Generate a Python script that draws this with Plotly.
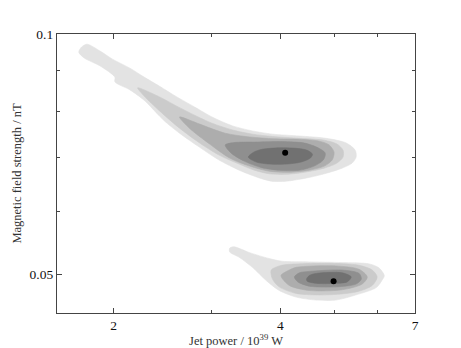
import plotly.graph_objects as go

# ---- data (x: jet power / 1e39 W, y: magnetic field / nT) ----
# Upper posterior mode: contour boundaries, outer (L1) to inner (L5)
up_l1_x = [1.73, 1.75, 1.79, 1.89, 1.99, 2.14, 2.27, 2.42, 2.60, 2.80, 3.01, 3.28, 3.56, 3.87, 4.33, 4.84, 5.26, 5.46, 5.48, 5.39, 5.17, 4.84, 4.46, 4.10, 3.85, 3.62, 3.37, 3.10, 2.86, 2.63, 2.47, 2.42, 2.27, 2.14, 2.01, 2.01, 1.89, 1.77]
up_l1_y = [0.0949, 0.0963, 0.0971, 0.0952, 0.0930, 0.0906, 0.0883, 0.0860, 0.0834, 0.0810, 0.0787, 0.0767, 0.0756, 0.0749, 0.0745, 0.0740, 0.0730, 0.0715, 0.0701, 0.0689, 0.0679, 0.0669, 0.0660, 0.0654, 0.0654, 0.0662, 0.0675, 0.0695, 0.0721, 0.0751, 0.0778, 0.0789, 0.0826, 0.0851, 0.0871, 0.0883, 0.0912, 0.0933]

up_l2_x = [2.21, 2.42, 2.60, 2.80, 3.01, 3.28, 3.56, 3.87, 4.33, 4.80, 5.06, 5.19, 5.19, 5.06, 4.80, 4.42, 4.10, 3.82, 3.59, 3.37, 3.10, 2.86, 2.63, 2.42, 2.27]
up_l2_y = [0.0856, 0.0834, 0.0812, 0.0791, 0.0773, 0.0758, 0.0749, 0.0744, 0.0740, 0.0736, 0.0728, 0.0715, 0.0701, 0.0689, 0.0679, 0.0671, 0.0667, 0.0668, 0.0675, 0.0687, 0.0705, 0.0730, 0.0762, 0.0801, 0.0836]

up_l3_x = [2.63, 2.86, 3.18, 3.52, 3.90, 4.33, 4.70, 4.90, 5.00, 4.96, 4.80, 4.51, 4.15, 3.82, 3.52, 3.24, 2.98, 2.74]
up_l3_y = [0.0787, 0.0771, 0.0751, 0.0743, 0.0739, 0.0738, 0.0734, 0.0726, 0.0711, 0.0695, 0.0683, 0.0675, 0.0671, 0.0673, 0.0683, 0.0699, 0.0728, 0.0762]

up_l4_x = [3.18, 3.30, 3.59, 4.03, 4.42, 4.66, 4.82, 4.78, 4.60, 4.33, 3.98, 3.70, 3.44, 3.26]
up_l4_y = [0.0726, 0.0731, 0.0732, 0.0733, 0.0730, 0.0721, 0.0709, 0.0695, 0.0683, 0.0675, 0.0675, 0.0680, 0.0693, 0.0709]

up_l5_x = [3.50, 3.58, 3.71, 3.98, 4.27, 4.47, 4.57, 4.53, 4.36, 4.10, 3.82, 3.62]
up_l5_y = [0.0701, 0.0711, 0.0717, 0.0720, 0.0719, 0.0715, 0.0707, 0.0699, 0.0691, 0.0687, 0.0687, 0.0691]

# Lower posterior mode
lo_l1_x = [3.24, 3.30, 3.52, 3.82, 4.03, 4.51, 5.17, 5.79, 6.03, 6.16, 6.10, 5.96, 5.48, 5.04, 4.64, 4.27, 3.98, 3.77, 3.56, 3.37, 3.24]
lo_l1_y = [0.0539, 0.0541, 0.0532, 0.0523, 0.0519, 0.0518, 0.0517, 0.0515, 0.0509, 0.0498, 0.0491, 0.0481, 0.0471, 0.0464, 0.0464, 0.0468, 0.0477, 0.0491, 0.0510, 0.0525, 0.0533]

lo_l2_x = [3.85, 3.98, 4.10, 4.84, 5.55, 5.86, 5.98, 5.86, 5.48, 4.84, 4.27, 3.98, 3.87]
lo_l2_y = [0.0506, 0.0512, 0.0514, 0.0516, 0.0513, 0.0506, 0.0496, 0.0484, 0.0475, 0.0471, 0.0473, 0.0482, 0.0493]

lo_l3_x = [4.01, 4.15, 4.27, 5.04, 5.55, 5.74, 5.62, 5.17, 4.51, 4.15]
lo_l3_y = [0.0498, 0.0506, 0.0510, 0.0512, 0.0507, 0.0496, 0.0486, 0.0478, 0.0477, 0.0484]

lo_l4_x = [4.24, 4.33, 4.51, 5.17, 5.55, 5.60, 5.48, 5.04, 4.51, 4.30]
lo_l4_y = [0.0496, 0.0502, 0.0504, 0.0506, 0.0501, 0.0493, 0.0486, 0.0482, 0.0483, 0.0489]

lo_l5_x = [4.46, 4.51, 4.64, 5.17, 5.37, 5.28, 5.04, 4.64, 4.47]
lo_l5_y = [0.0493, 0.0498, 0.0501, 0.0502, 0.0496, 0.0489, 0.0487, 0.0487, 0.0490]

# best-fit points
best_x = [4.08, 4.99]
best_y = [0.0710, 0.0490]

# axis ticks
x_major = [2, 4, 7]
x_minor = [3, 5, 6]
y_major = [0.05, 0.1]
y_minor = [0.06, 0.07, 0.08, 0.09]

level_colors = ["#e3e3e3", "#cbcbcb", "#adadad", "#8f8f8f", "#717171"]

fig = go.Figure()

def add_region(xs, ys, color):
    fig.add_trace(go.Scatter(
        x=xs + xs[:1], y=ys + ys[:1], mode="lines", fill="toself",
        fillcolor=color, line=dict(width=0.6, color=color, shape="spline", smoothing=0.8),
        hoverinfo="skip", showlegend=False))

upper = [(up_l1_x, up_l1_y), (up_l2_x, up_l2_y), (up_l3_x, up_l3_y), (up_l4_x, up_l4_y), (up_l5_x, up_l5_y)]
lower = [(lo_l1_x, lo_l1_y), (lo_l2_x, lo_l2_y), (lo_l3_x, lo_l3_y), (lo_l4_x, lo_l4_y), (lo_l5_x, lo_l5_y)]
for (xs, ys), c in zip(upper, level_colors):
    add_region(xs, ys, c)
for (xs, ys), c in zip(lower, level_colors):
    add_region(xs, ys, c)

fig.add_trace(go.Scatter(x=best_x, y=best_y, mode="markers",
                         marker=dict(color="black", size=6), showlegend=False, hoverinfo="skip"))

font_family = "Liberation Serif, DejaVu Serif, serif"

# page body adds an 8px offset; the figure is sized so that the frame lands where the reference has it
fig.update_layout(
    width=453, height=340,
    margin=dict(l=49, r=46, t=26, b=35),
    paper_bgcolor="white", plot_bgcolor="white",
    font=dict(family=font_family, color="#222222", size=13),
    showlegend=False,
)

fig.update_xaxes(
    type="log", range=[0.1987, 0.8451], automargin=False,
    tickvals=x_major, ticktext=[str(v) for v in x_major],
    ticks="inside", ticklen=5, tickcolor="#444444", tickwidth=1,
    minor=dict(tickvals=x_minor, ticks="inside", ticklen=3, tickcolor="#444444"),
    showline=True, linecolor="#444444", linewidth=1.2, mirror="ticks",
    showgrid=False, zeroline=False,
    tickfont=dict(size=13.5, color="#111111"),
    title=dict(text="Jet power / 10<sup>39</sup> W", font=dict(size=12.5, color="#333333"), standoff=1),
)
fig.update_yaxes(
    type="log", range=[-1.3497, -1.0], automargin=False,
    tickvals=y_major, ticktext=["0.05", "0.1"],
    ticks="inside", ticklen=5, tickcolor="#444444", tickwidth=1,
    minor=dict(tickvals=y_minor, ticks="inside", ticklen=3, tickcolor="#444444"),
    showline=True, linecolor="#444444", linewidth=1.2, mirror="ticks",
    showgrid=False, zeroline=False,
    tickfont=dict(size=13.5, color="#111111"),
    title=dict(text="Magnetic field strength / nT", font=dict(size=12.5, color="#333333"), standoff=5),
)

fig.write_html("out.html")
